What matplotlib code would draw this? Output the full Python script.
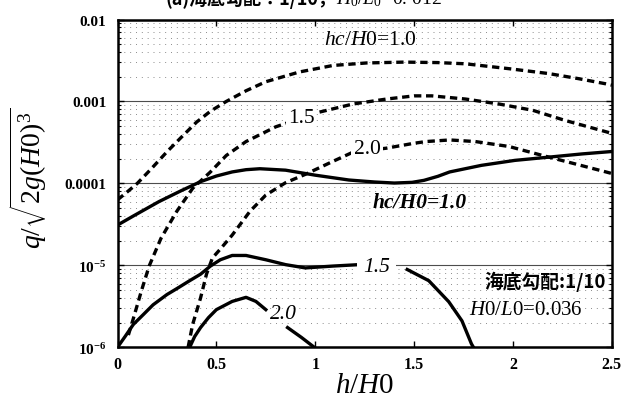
import numpy as np
import matplotlib; matplotlib.use("Agg")
import matplotlib.pyplot as plt
from matplotlib.ticker import LogLocator, NullFormatter

plt.rcParams["font.family"] = ["Liberation Serif", "DejaVu Serif"]
plt.rcParams["mathtext.fontset"] = "custom"
plt.rcParams["mathtext.rm"] = "Liberation Serif"
plt.rcParams["mathtext.it"] = "Liberation Serif:italic"
plt.rcParams["mathtext.bf"] = "Liberation Serif:bold"
CJK = ["Noto Sans CJK JP", "DejaVu Sans"]
NAN = float("nan")

# 天端高 hc/H0 = 1.0, 1.5, 2.0 : 破線と実線の2系列ずつ
x_d10 = [0, 0.05, 0.10, 0.17, 0.25, 0.32, 0.40, 0.47, 0.55, 0.65, 0.75, 0.92, 1.09, 1.26, 1.45,
         1.62, 1.76, 1.98, 2.18, 2.33, 2.47, 2.5]
q_d10 = [6.3e-5, 7.9e-5, 1.0e-4, 1.5e-4, 2.43e-4, 3.6e-4, 5.6e-4, 7.6e-4, 1.0e-3, 1.35e-3,
         1.74e-3, 2.29e-3, 2.75e-3, 2.95e-3, 3.02e-3, 2.98e-3, 2.88e-3, 2.51e-3, 2.19e-3,
         1.9e-3, 1.64e-3, 1.58e-3]
x_d15 = [0.055, 0.08, 0.12, 0.16, 0.22, 0.30, 0.38, 0.47, 0.55, 0.65, 0.80, 1.02, 1.19, 1.36,
         1.50, 1.59, 1.76, 1.93, 2.10, 2.26, 2.47, 2.5]
q_d15 = [1.41e-6, 2.24e-6, 4.8e-6, 9.8e-6, 2.14e-5, 4.57e-5, 8.7e-5, 1.38e-4, 2.19e-4, 3.24e-4,
         4.9e-4, 7.4e-4, 9.3e-4, 1.07e-3, 1.17e-3, 1.17e-3, 1.07e-3, 9.3e-4, 7.8e-4, 5.9e-4,
         4.27e-4, 4.07e-4]
x_d20 = [0.357, 0.38, 0.42, 0.45, 0.48, 0.52, 0.58, 0.67, 0.75, 0.85, 0.95, 1.09, 1.19, 1.36,
         1.50, 1.56, 1.68, 1.81, 1.98, 2.15, 2.31, 2.47, 2.5]
q_d20 = [1.0e-6, 1.9e-6, 4.0e-6, 7.8e-6, 1.23e-5, 1.58e-5, 2.34e-5, 4.57e-5, 7.2e-5, 1.02e-4,
         1.29e-4, 1.86e-4, 2.4e-4, 2.69e-4, 3.09e-4, 3.24e-4, 3.39e-4, 3.24e-4, 2.82e-4, 2.19e-4,
         1.74e-4, 1.38e-4, 1.32e-4]
x_s10 = [0, 0.08, 0.21, 0.32, 0.42, 0.50, 0.58, 0.65, 0.72, 0.85, 1.0, 1.17, 1.30, 1.40, 1.49,
         1.55, 1.62, 1.68, 1.84, 2.01, 2.18, 2.35, 2.5]
q_s10 = [3.1e-5, 4.0e-5, 6.0e-5, 8.1e-5, 1.05e-4, 1.23e-4, 1.38e-4, 1.47e-4, 1.51e-4, 1.45e-4,
         1.26e-4, 1.10e-4, 1.04e-4, 1.01e-4, 1.03e-4, 1.09e-4, 1.22e-4, 1.38e-4, 1.66e-4,
         1.91e-4, 2.09e-4, 2.29e-4, 2.45e-4]
x_s15 = [0, 0.038, 0.08, 0.13, 0.18, 0.25, 0.30, 0.365, 0.42, 0.47, 0.52, 0.58, 0.65, 0.75,
         0.85, 0.95, 1.09, 1.22, NAN, 1.465, 1.574, 1.675, 1.742, 1.79, 1.80]
q_s15 = [1.0e-6, 1.35e-6, 1.9e-6, 2.5e-6, 3.3e-6, 4.4e-6, 5.2e-6, 6.5e-6, 7.8e-6, 9.8e-6,
         1.17e-5, 1.32e-5, 1.32e-5, 1.17e-5, 1.02e-5, 9.3e-6, 9.8e-6, 1.02e-5, NAN,
         8.9e-6, 6.5e-6, 3.6e-6, 2.1e-6, 1.1e-6, 1.0e-6]
x_s20 = [0.365, 0.39, 0.42, 0.46, 0.50, 0.58, 0.65, 0.70, 0.75, NAN, 0.86, 0.93, 0.995]
q_s20 = [1.0e-6, 1.35e-6, 1.74e-6, 2.3e-6, 2.88e-6, 3.63e-6, 4.07e-6, 3.63e-6, 2.88e-6, NAN,
         1.74e-6, 1.32e-6, 1.0e-6]

xticks = [0, 0.5, 1, 1.5, 2, 2.5]
xticklabels = ["0", "0.5", "1", "1.5", "2", "2.5"]
yticks = [1e-6, 1e-5, 1e-4, 1e-3, 1e-2]
yticklabels = [r"$\mathbf{10^{-6}}$", r"$\mathbf{10^{-5}}$", "0.0001", "0.001", "0.01"]

fig = plt.figure(figsize=(6.25, 4.02), dpi=100)
ax = fig.add_axes([0.188, 0.1336, 0.791, 0.8154])
ax.set_yscale("log")
ax.set_xlim(0, 2.5); ax.set_ylim(1e-6, 1e-2)

ax.grid(which="major", axis="y", color="0.3", lw=0.8, zorder=0)
ax.grid(which="minor", axis="y", color="0.55", lw=0.7, ls=(0, (1, 5)), zorder=0)
ax.yaxis.set_minor_locator(LogLocator(base=10, subs=np.arange(2, 10)))
ax.yaxis.set_minor_formatter(NullFormatter())

dash = dict(color="black", lw=2.4, ls=(0, (2.2, 1.4)), zorder=3)
solid = dict(color="black", lw=2.4, zorder=3)
ax.plot(x_d10, q_d10, **dash)
ax.plot(x_d15, q_d15, **dash)
ax.plot(x_d20, q_d20, **dash)
ax.plot(x_s10, q_s10, **solid)
ax.plot(x_s15, q_s15, **solid)
ax.plot(x_s20, q_s20, **solid)

wb = dict(boxstyle="square,pad=0.1", fc="white", ec="none")
ax.text(1.28, 10**-2.24, r"$hc/H\mathit{0}$=1.0", fontsize=15.5, ha="center", va="center", zorder=4)
ax.text(0.928, 10**-3.19, "1.5", fontsize=15.5, ha="center", va="center", bbox=wb, zorder=4)
ax.text(1.262, 10**-3.575, "2.0", fontsize=15.5, ha="center", va="center", bbox=wb, zorder=4)
ax.text(1.53, 10**-4.23, "hc/H0=1.0", fontsize=15.5, style="italic", fontweight="bold",
        ha="center", va="center", zorder=4)
ax.text(1.31, 10**-5.01, "1.5", fontsize=15.5, style="italic", ha="center", va="center",
        bbox=dict(boxstyle="square,pad=0.3", fc="white", ec="none"), zorder=4)
ax.text(0.84, 10**-5.59, "2.0", fontsize=15.5, style="italic", ha="center", va="center", zorder=4)
ax.text(2.47, 10**-5.19, "海底勾配:1/10", family=CJK, fontsize=13.5, fontweight="bold",
        ha="right", va="center", zorder=4)
ax.text(1.776, 10**-5.54, r"$H\mathit{0}/L\mathit{0}$=0.036", fontsize=15, ha="left",
        va="center", zorder=4)

ax.set_xticks(xticks); ax.set_xticklabels(xticklabels, fontsize=11.5, fontweight="bold")
ax.set_yticks(yticks); ax.set_yticklabels(yticklabels, fontsize=11, fontweight="bold")
ax.tick_params(which="both", direction="in", top=True, right=True)
ax.tick_params(which="major", length=4, width=1)
ax.tick_params(axis="y", which="major", pad=8)
ax.tick_params(axis="x", which="major", pad=6)
ax.tick_params(which="minor", length=2.5, width=0.8)
for s in ax.spines.values():
    s.set_linewidth(1.8)

ax.set_xlabel(r"$h/H\mathit{0}$", fontsize=21)
ax.xaxis.set_label_coords(0.5, -0.075)
ax.set_ylabel(r"$q/\sqrt{2g(H\mathit{0})^3}$", fontsize=20)
ax.yaxis.set_label_coords(-0.138, 0.52)

fig.text(0.538, 0.978, "(a)海底勾配：1/10，", family=CJK, fontsize=13, fontweight="bold",
         ha="right", va="bottom")
fig.text(0.538, 0.978, r"$H_0/L_0$=0. 012", fontsize=14, ha="left", va="bottom")

fig.savefig("out.png", dpi=100)
